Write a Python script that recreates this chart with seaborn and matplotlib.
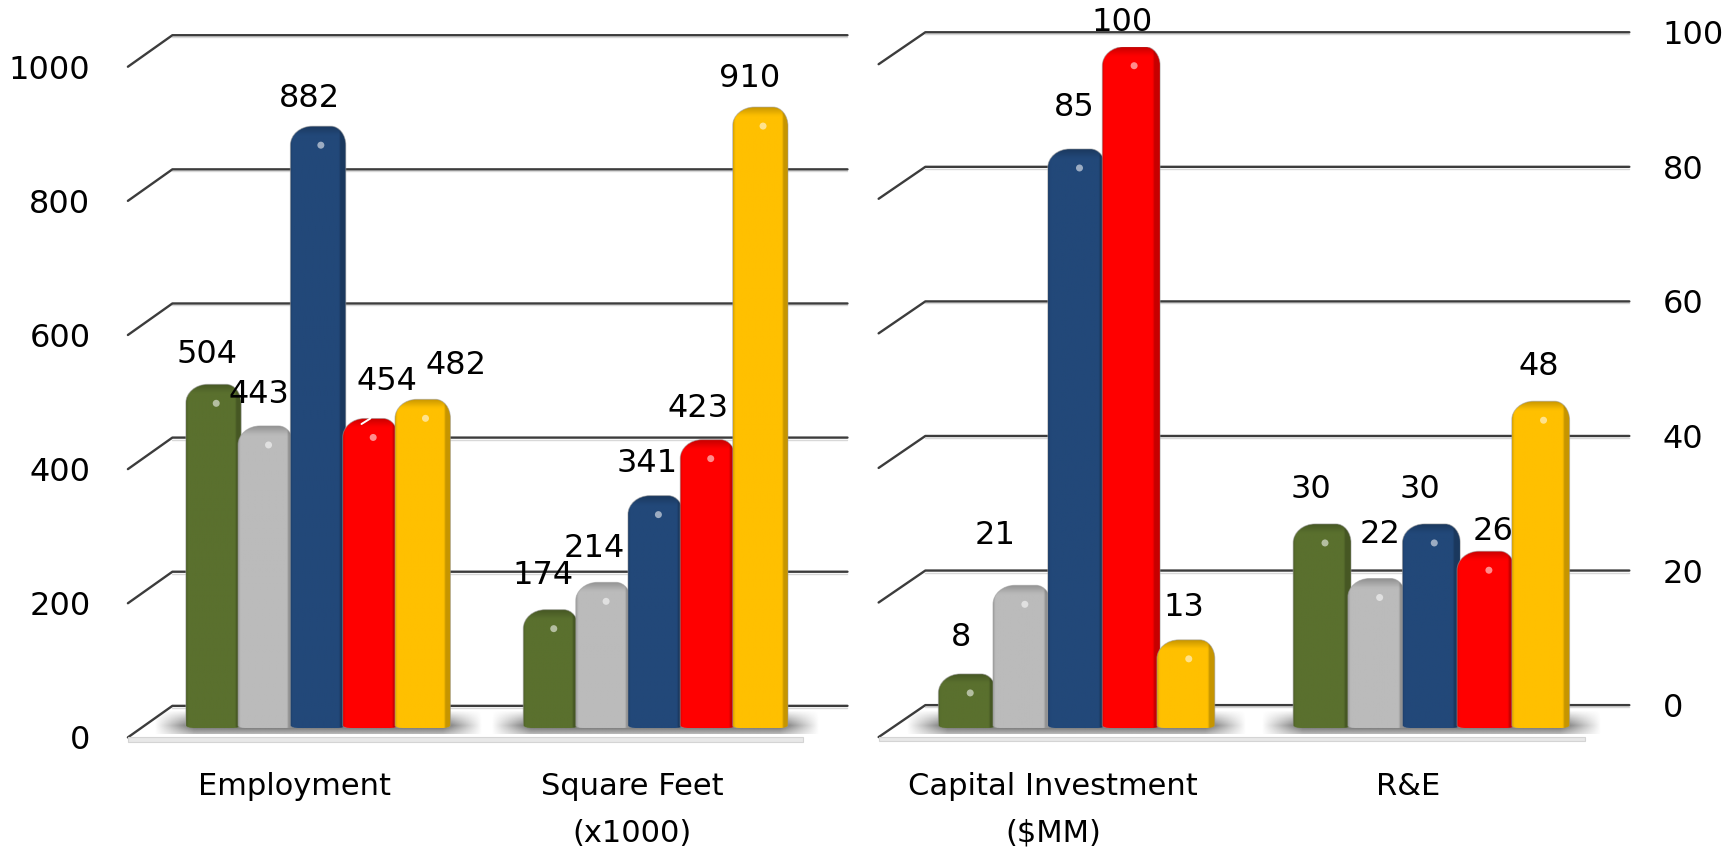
import numpy as np
import pandas as pd
import matplotlib
matplotlib.use("Agg")
import matplotlib.pyplot as plt
from matplotlib.path import Path
from matplotlib.patches import PathPatch, Ellipse, Rectangle
from matplotlib.colors import to_rgb
import seaborn as sns

# ---------- data ----------
series_names = ["Series 1", "Series 2", "Series 3", "Series 4", "Series 5"]
palette_colors = ["#5A702E", "#BBBBBB", "#224879", "#FF0000", "#FFC000"]

left_categories = ["Employment", "Square Feet\n(x1000)"]
left_employment = [504, 443, 882, 454, 482]
left_square_feet = [174, 214, 341, 423, 910]
left_ticks = [0, 200, 400, 600, 800, 1000]

right_categories = ["Capital Investment\n($MM)", "R&E"]
right_capital = [8, 21, 85, 100, 13]
right_re = [30, 22, 30, 26, 48]
right_ticks = [0, 20, 40, 60, 80, 100]

# ---------- label nudges (reference pixels at 1560 wide) ----------
left_nudges = [(-6, 27), (-6, 28), (-8, 25), (15, 33), (30, 30),
               (-7, 31), (-8, 30), (-8, 29), (-9, 28), (-10, 26)]
right_nudges = [(-6, 33), (-24, 45), (-2, 37), (-8, 22), (-2, 29),
                (-10, 31), (3, 40), (-10, 31), (6, 18), (-2, 31)]

# ---------- layout helpers ----------
W, H = 1735, 850
S = W / 1560.0
sns.set_theme(style="white")
plt.rcParams["font.family"] = ["DejaVu Sans"]
TICK_FS = 23
VALUE_FS = 23
CAT_FS = 22
fig = plt.figure(figsize=(W / 100, H / 100), dpi=100, facecolor="white")


def rect(x0, x1, ytop, ybot):
    """Axes rectangle from reference display coordinates."""
    return [x0 * S / W, 1 - ybot * S / H, (x1 - x0) * S / W, (ybot - ytop) * S / H]


def draw_wall(ax, ticks, depth_x, y_front, y_back, x_end=1.0):
    trans = ax.get_yaxis_transform()
    for v in ticks:
        ax.plot([0, depth_x, x_end], [v + y_front, v + y_back, v + y_back],
                transform=trans, color="#3C3C3C", lw=1.7, clip_on=False,
                solid_joinstyle="round", zorder=1)
        ax.plot([depth_x, x_end], [v + y_back, v + y_back],
                transform=trans + matplotlib.transforms.Affine2D().translate(0, -2),
                color="#D8D8D8", lw=1.0, clip_on=False, zorder=0.9)
    ax.set_xticks([])
    ax.set_yticks(ticks)
    ax.set_ylim(ticks[0], ticks[-1])
    ax.set_xlim(0, 1)
    for sp in ax.spines.values():
        sp.set_visible(False)
    ax.patch.set_alpha(0)


def rounded_top_path(x0, x1, h, rxl, rxr, ry, rbx, rby):
    k = 0.5523
    verts = [
        (x0 + rbx, 0),
        (x1 - rbx, 0),
        (x1 - rbx + k * rbx, 0), (x1, rby - k * rby), (x1, rby),
        (x1, h - ry),
        (x1, h - ry + k * ry), (x1 - rxr + k * rxr, h), (x1 - rxr, h),
        (x0 + rxl, h),
        (x0 + rxl - k * rxl, h), (x0, h - ry + k * ry), (x0, h - ry),
        (x0, rby),
        (x0, rby - k * rby), (x0 + rbx - k * rbx, 0), (x0 + rbx, 0),
        (x0 + rbx, 0),
    ]
    codes = [Path.MOVETO, Path.LINETO,
             Path.CURVE4, Path.CURVE4, Path.CURVE4,
             Path.LINETO,
             Path.CURVE4, Path.CURVE4, Path.CURVE4,
             Path.LINETO,
             Path.CURVE4, Path.CURVE4, Path.CURVE4,
             Path.LINETO,
             Path.CURVE4, Path.CURVE4, Path.CURVE4,
             Path.CLOSEPOLY]
    return Path(verts, codes)


def style_bars(ax, widen, px_x, px_y, xlim, ylim):
    """Turn seaborn's rectangles into rounded, shaded columns."""
    bars = [p for p in ax.patches if p.get_height() > 0]
    bars.sort(key=lambda b: b.get_x())
    info = []
    for i, b in enumerate(bars):
        xc = b.get_x() + b.get_width() / 2
        w = b.get_width() * widen
        h = b.get_height()
        x0, x1 = xc - w / 2, xc + w / 2
        col = np.array(to_rgb(b.get_facecolor()[:3]))
        b.set_visible(False)
        rxl, rxr = 22 * px_x, 15 * px_x
        ry = 19 * px_y
        rbx, rby = 9 * px_x, 3 * px_y
        path = rounded_top_path(x0, x1, h, rxl, rxr, ry, rbx, rby)
        clip = PathPatch(path, transform=ax.transData, fc="none", ec="none")
        ax.add_patch(clip)
        nx = 80
        ny = max(int(h / px_y / 2), 8)
        u = np.linspace(0, 1, nx)
        ypx = np.linspace(h / px_y, 0, ny)
        horiz = np.ones(nx)
        horiz -= 0.14 * np.clip(1 - u / 0.04, 0, 1)
        horiz -= 0.22 * np.clip((u - 0.88) / 0.03, 0, 1)
        top_dist = h / px_y - ypx
        vert = 1 - 0.22 * np.clip(1 - top_dist / 9.0, 0, 1)
        shade = np.outer(vert, horiz)[..., None]
        img = np.clip(shade * col, 0, 1)
        zo = 3 + i * 0.01
        im = ax.imshow(img, extent=[x0, x1, 0, h], aspect="auto",
                       interpolation="bilinear", zorder=zo)
        im.set_clip_path(clip)
        ax.add_patch(PathPatch(path, fc="none", ec="#9A9A9A", lw=0.7, alpha=0.55,
                               zorder=zo + 0.001))
        tint = 0.35 * col + 0.65
        ax.add_patch(Ellipse((xc + 0.05 * w, h - 19 * px_y),
                             7 * px_x, 7 * px_y, fc=tint, ec="none", alpha=0.85,
                             zorder=zo + 0.002))
        info.append((xc, h, x0, x1))
    ax.set_xlim(*xlim)
    ax.set_ylim(*ylim)
    return info


def floor_shadow(ax, x0, x1, px_x, px_y):
    """Soft dark pool of shadow under one group of columns."""
    nx, ny = 160, 40
    xs = np.linspace(0, 1, nx)
    ys = np.linspace(1, 0, ny)
    fade_x = np.clip(np.minimum(xs, 1 - xs) / 0.12, 0, 1)
    fade_y = np.clip(1 - np.abs(ys - 0.35) / 0.65, 0, 1)
    rgba = np.zeros((ny, nx, 4))
    rgba[..., :3] = 0.2
    rgba[..., 3] = 0.75 * np.outer(fade_y, fade_x)
    ax.imshow(rgba, extent=[x0 - 32 * px_x, x1 + 32 * px_x, -6 * px_y, 18 * px_y],
              aspect="auto", interpolation="bilinear", zorder=1.5, clip_on=False)


def build_chart(rect_bars, categories, v1, v2, ymax, width, nudges, label_shift, xlim, pad):
    df = pd.DataFrame({
        "category": [categories[0]] * 5 + [categories[1]] * 5,
        "series": series_names * 2,
        "value": list(v1) + list(v2),
    })
    ax = fig.add_axes(rect_bars, zorder=5)
    ax.patch.set_alpha(0)
    sns.barplot(data=df, x="category", y="value", hue="series", hue_order=series_names,
                order=categories, palette=palette_colors, width=width, gap=0, dodge=True,
                legend=False, saturation=1, ax=ax)
    ax.set_xlim(*xlim)
    ax.set_ylim(0, ymax)
    fig.canvas.draw()
    bb = ax.get_window_extent()
    px_x = (xlim[1] - xlim[0]) / bb.width
    px_y = ymax / bb.height
    info = style_bars(ax, 1.06, px_x, px_y, xlim, (0, ymax))
    for g in (info[:5], info[5:]):
        floor_shadow(ax, min(i[2] for i in g), max(i[3] for i in g), px_x, px_y)
    ax.set_xlim(*xlim)
    ax.set_ylim(0, ymax)
    values = list(v1) + list(v2)
    for (xc, h, _, _), v, (dx, dy) in zip(info, values, nudges):
        ax.annotate(f"{v}", xy=(xc, h), xytext=(dx * S, dy * S), textcoords="offset pixels",
                    ha="center", va="center", fontsize=VALUE_FS, color="black",
                    zorder=10, annotation_clip=False)
    ax.set_xlabel("")
    ax.set_ylabel("")
    ax.set_yticks([])
    ax.set_xticks([-label_shift, 1 - label_shift])
    ax.set_xticklabels(categories, fontsize=CAT_FS, color="black", linespacing=1.8)
    ax.tick_params(axis="x", length=0, pad=pad)
    ax.grid(False)
    for sp in ax.spines.values():
        sp.set_visible(False)
    return ax, info


# ---------- left chart ----------
wall_l = fig.add_axes(rect(115, 762, 60, 663), zorder=1)
draw_wall(wall_l, left_ticks, 40 / 647, 0, 47)
wall_l.yaxis.tick_left()
wall_l.tick_params(axis="y", length=0, pad=27, labelsize=TICK_FS, labelcolor="black")
wall_l.add_patch(Rectangle((0, -7), (722 - 115) / 647, 7, transform=wall_l.get_yaxis_transform(),
                           fc="#E8E8E8", ec="#D4D4D4", lw=0.8, clip_on=False, zorder=1.2))

xl_left = ((115 - 286) / 303.5, (722 - 286) / 303.5)
ax_l, info_l = build_chart(rect(115, 722, 41, 655), left_categories, left_employment,
                           left_square_feet, 1000, 0.775, left_nudges, 21 / 303.5,
                           xl_left, 31)
# small white leader stroke on the red column
red_bar = info_l[3]
ax_l.annotate("", xy=(red_bar[0], red_bar[1]), xytext=(-8 * S, -5 * S), textcoords="offset pixels",
              xycoords="data", arrowprops=dict(arrowstyle="-", color="white", lw=1.4,
                                               shrinkA=0, shrinkB=0), zorder=9,
              annotation_clip=False)

# ---------- right chart ----------
wall_r = fig.add_axes(rect(790, 1465, 29, 634), zorder=1)
draw_wall(wall_r, right_ticks, 42 / 675, -4.75, 0)
wall_r.yaxis.tick_right()
wall_r.tick_params(axis="y", length=0, pad=24, labelsize=TICK_FS, labelcolor="black")
wall_r.add_patch(Rectangle((0, -4.75 - 0.6), (1425 - 790) / 675, 0.6,
                           transform=wall_r.get_yaxis_transform(), fc="#E8E8E8", ec="#D4D4D4",
                           lw=0.8, clip_on=False, zorder=1.2))

xl_right = ((790 - 968) / 319, (1425 - 968) / 319)
build_chart(rect(790, 1425, 42, 655), right_categories, right_capital, right_re,
            100, 0.77, right_nudges, 21 / 319, xl_right, 31)

fig.savefig("out.png", dpi=100, facecolor="white")
